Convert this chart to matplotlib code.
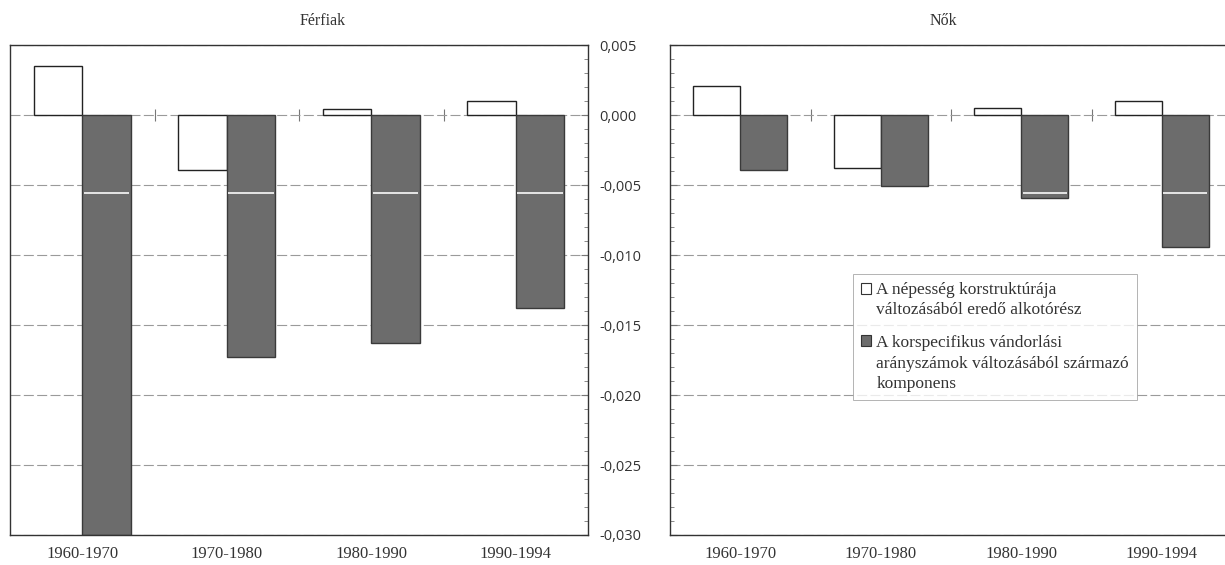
import matplotlib.pyplot as plt
from matplotlib.patches import Patch, Rectangle
from matplotlib.legend_handler import HandlerPatch
import numpy as np

# periods and panel titles
periods = ['1960-1970', '1970-1980', '1980-1990', '1990-1994']
panels = ['Férfiak', 'Nők']

# component 1: population age structure, component 2: age specific migration rates
men_structure = [0.0035, -0.0039, 0.0004, 0.0010]
men_rates = [-0.0300, -0.0173, -0.0163, -0.0138]
women_structure = [0.0021, -0.0038, 0.0005, 0.0010]
women_rates = [-0.0039, -0.0051, -0.0059, -0.0094]

yticks = [0.005, 0.0, -0.005, -0.010, -0.015, -0.020, -0.025, -0.030]
ytick_labels = ['0,005', '0,000', '-0,005', '-0,010', '-0,015', '-0,020', '-0,025', '-0,030']

legend_labels = ['A népesség korstruktúrája\nváltozásából eredő alkotórész',
                 'A korspecifikus vándorlási\narányszámok változásából származó\nkomponens']

serif = ['Liberation Serif', 'DejaVu Serif']
dark = '#6c6c6c'
W, H = 1225, 565
streak_y = -0.0056

fig = plt.figure(figsize=(W / 100, H / 100), dpi=100)
ax1 = fig.add_axes([10 / W, 30 / H, 578 / W, 490 / H])
ax2 = fig.add_axes([670 / W, 30 / H, 562 / W, 490 / H])

x = np.arange(len(periods))
w = 0.335

for ax, s1, s2 in [(ax1, men_structure, men_rates), (ax2, women_structure, women_rates)]:
    ax.bar(x - w / 2, s1, w, color='white', edgecolor='#222222', linewidth=1.0, zorder=2)
    ax.bar(x + w / 2, s2, w, color=dark, edgecolor='#3a3a3a', linewidth=1.0, zorder=2)
    # light scan streak inside the long dark bars
    deep = np.array(s2) < streak_y - 0.0002
    ax.hlines(np.full(deep.sum(), streak_y), x[deep] + 0.01, x[deep] + w - 0.01,
              color='#e6e6e6', linewidth=1.4, zorder=3)
    ax.set_xlim(-0.5, len(periods) - 0.5)
    ax.set_ylim(-0.030, 0.005)
    ax.set_yticks(yticks)
    ax.set_yticks(np.arange(-0.030, 0.0051, 0.001), minor=True)
    ax.grid(True, axis='y', which='major', color='#9a9a9a', linestyle=(0, (9, 3)), linewidth=0.8, zorder=0)
    # small cross marks at category borders on the zero line
    bounds = x[:-1] + 0.5
    ax.plot(bounds, np.zeros(len(bounds)), ls='none', marker='|', ms=8, mew=0.8, color='#777777', zorder=1)
    ax.set_xticks(x)
    ax.set_xticklabels(periods, fontfamily=serif, fontsize=12, color='#333333')
    ax.tick_params(axis='x', length=0, pad=8)
    ax.tick_params(axis='y', which='both', direction='in', color='#777777')
    ax.tick_params(axis='y', which='major', length=5)
    ax.tick_params(axis='y', which='minor', length=3)
    for sp in ax.spines.values():
        sp.set_color('#333333')
        sp.set_linewidth(1.0)

ax1.yaxis.tick_right()
ax1.set_yticklabels(ytick_labels, fontfamily='Open Sans', fontsize=10.5, color='#333333')
ax1.tick_params(axis='y', which='major', pad=8)
ax2.yaxis.tick_left()
ax2.set_yticklabels([])

fig.text(323 / W, 1 - 25 / H, panels[0], ha='center', va='baseline', fontfamily=serif, fontsize=11.5, color='#333333')
fig.text(943 / W, 1 - 25 / H, panels[1], ha='center', va='baseline', fontfamily=serif, fontsize=11.5, color='#333333')

# legend markers sit next to the first line of each label
leg_size = 12.5
leg_spacing = 1.35
line_h = leg_size * leg_spacing


class TopHandler(HandlerPatch):
    def __init__(self, nlines):
        super().__init__()
        self.nlines = nlines

    def create_artists(self, legend, orig_handle, xdescent, ydescent, width, height, fontsize, trans):
        shift = (self.nlines - 1) / 2 * line_h
        p = Rectangle((-xdescent, -ydescent + shift), width, height,
                      facecolor=orig_handle.get_facecolor(), edgecolor=orig_handle.get_edgecolor(),
                      linewidth=orig_handle.get_linewidth(), transform=trans)
        return [p]


handles = [Patch(facecolor='white', edgecolor='#333333', linewidth=0.8),
           Patch(facecolor=dark, edgecolor='#333333', linewidth=0.8)]
handler_map = {h: TopHandler(lab.count('\n') + 1) for h, lab in zip(handles, legend_labels)}
leg = ax2.legend(handles, legend_labels, loc='upper left', bbox_to_anchor=(853 / W, 1 - 274 / H),
                 bbox_transform=fig.transFigure, borderaxespad=0, frameon=True, fancybox=False,
                 prop={'family': serif, 'size': leg_size}, handlelength=0.6, handleheight=0.6,
                 handletextpad=0.3, labelspacing=1.0, borderpad=0.45, handler_map=handler_map)
leg.get_frame().set_edgecolor('#a0a0a0')
leg.get_frame().set_linewidth(0.7)
for t in leg.get_texts():
    t.set_color('#333333')
    t.set_linespacing(leg_spacing)

fig.savefig('out.png', dpi=100)
